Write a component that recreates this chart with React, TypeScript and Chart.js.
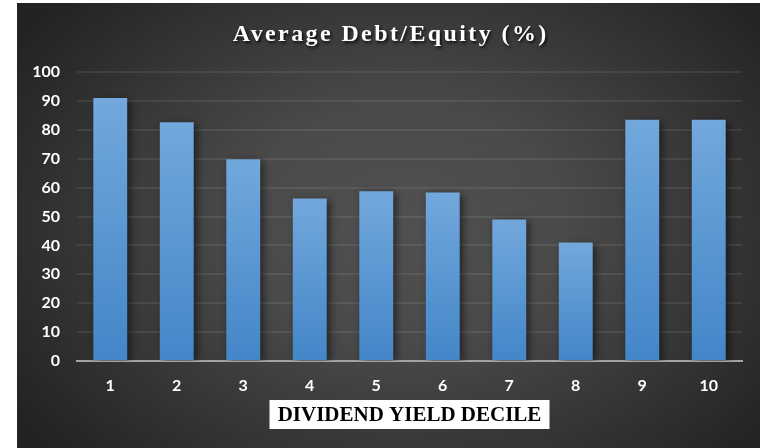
import React, { useEffect, useRef } from "react";
import { Chart, registerables } from "chart.js";

Chart.register(...registerables);

const categories: string[] = ["1", "2", "3", "4", "5", "6", "7", "8", "9", "10"];
const debtEquity: number[] = [91, 82.6, 69.8, 56.2, 58.7, 58.3, 49, 41, 83.5, 83.5];
const chartTitle = "Average Debt/Equity (%)";
const xAxisTitle = "DIVIDEND YIELD DECILE";
const yMin = 0;
const yMax = 100;
const yStep = 10;

const W = 743;
const H = 445;

const backgroundPlugin = {
  id: "bgPlugin",
  beforeDraw(chart: any) {
    const ctx = chart.ctx as CanvasRenderingContext2D;
    ctx.save();
    const cx = W * 0.52;
    const cy = H * 0.5;
    const rx = W * 0.62;
    const ry = H * 0.75;
    ctx.fillStyle = "#232323";
    ctx.fillRect(0, 0, W, H);
    ctx.translate(cx, cy);
    ctx.scale(1, ry / rx);
    const g = ctx.createRadialGradient(0, 0, 0, 0, 0, rx);
    g.addColorStop(0, "#505050");
    g.addColorStop(0.35, "#4a4a4a");
    g.addColorStop(1, "#232323");
    ctx.fillStyle = g;
    ctx.fillRect(-rx, -rx * 2, rx * 2, rx * 4);
    ctx.restore();
  },
};

const shadowPlugin = {
  id: "barShadow",
  beforeDatasetsDraw(chart: any) {
    const ctx = chart.ctx as CanvasRenderingContext2D;
    ctx.save();
    ctx.shadowColor = "rgba(0,0,0,0.55)";
    ctx.shadowBlur = 8;
    ctx.shadowOffsetX = 3;
    ctx.shadowOffsetY = 2;
  },
  afterDatasetsDraw(chart: any) {
    chart.ctx.restore();
  },
};

const textPlugin = {
  id: "texts",
  afterDraw(chart: any) {
    const ctx = chart.ctx as CanvasRenderingContext2D;
    const area = chart.chartArea;
    // Title
    ctx.save();
    ctx.font = "bold 24px 'Liberation Serif', serif";
    (ctx as any).letterSpacing = "0px";
    const natural = ctx.measureText(chartTitle).width;
    const spacing = Math.max(0, (316 - natural) / chartTitle.length);
    (ctx as any).letterSpacing = spacing.toFixed(2) + "px";
    ctx.textAlign = "center";
    ctx.textBaseline = "alphabetic";
    ctx.shadowColor = "rgba(0,0,0,0.8)";
    ctx.shadowBlur = 3;
    ctx.shadowOffsetX = 1.5;
    ctx.shadowOffsetY = 2;
    ctx.fillStyle = "#ffffff";
    ctx.fillText(chartTitle, W / 2 + spacing / 2 + 1, 38);
    ctx.restore();

    // X axis title in white box
    ctx.save();
    ctx.font = "bold 21px 'Liberation Serif', serif";
    const cx = (area.left + area.right) / 2;
    ctx.fillStyle = "#ffffff";
    ctx.fillRect(cx - 140, 397, 280, 29);
    ctx.fillStyle = "#000000";
    ctx.textAlign = "center";
    ctx.textBaseline = "alphabetic";
    ctx.fillText(xAxisTitle, cx, 418, 268);
    ctx.restore();
  },
};

export default function App() {
  const canvasRef = useRef<HTMLCanvasElement | null>(null);

  useEffect(() => {
    const canvas = canvasRef.current;
    if (!canvas) return;
    const chart = new Chart(canvas, {
      type: "bar",
      data: {
        labels: categories,
        datasets: [
          {
            data: debtEquity,
            categoryPercentage: 1,
            barPercentage: 0.51,
            borderWidth: 0,
            backgroundColor: (c: any) => {
              const ch = c.chart;
              if (!ch.chartArea || c.raw === undefined) return "#5b9bd5";
              const ys = ch.scales.y;
              const top = ys.getPixelForValue(c.raw);
              const bottom = ys.getPixelForValue(0);
              const g = ch.ctx.createLinearGradient(0, top, 0, bottom);
              g.addColorStop(0, "#72a8dc");
              g.addColorStop(1, "#4386c8");
              return g;
            },
          },
        ],
      },
      options: {
        responsive: false,
        animation: false,
        devicePixelRatio: 1,
        layout: { padding: { top: 69, right: 18, left: 0, bottom: 0 } },
        plugins: {
          legend: { display: false },
          title: { display: false },
          tooltip: { enabled: false },
        },
        scales: {
          x: {
            z: 1,
            grid: { display: false, drawTicks: false },
            border: { display: true, color: "#a3a3a3", width: 2 },
            ticks: {
              color: "#ffffff",
              font: { family: "Lato, sans-serif", size: 16, weight: "bold" },
              padding: 15,
            },
            afterFit(scale: any) {
              scale.height = 87;
            },
          },
          y: {
            min: yMin,
            max: yMax,
            grid: {
              drawTicks: false,
              color: (c: any) => (c.tick && c.tick.value === 0 ? "rgba(0,0,0,0)" : "rgba(255,255,255,0.08)"),
              lineWidth: 2,
            },
            border: { display: false },
            ticks: {
              stepSize: yStep,
              color: "#ffffff",
              font: { family: "Lato, sans-serif", size: 16, weight: "bold" },
              padding: 17,
            },
            afterFit(scale: any) {
              scale.width = 60;
            },
          },
        },
      } as any,
      plugins: [backgroundPlugin, shadowPlugin, textPlugin],
    });
    return () => chart.destroy();
  }, []);

  return (
    <div style={{ position: "fixed", left: 0, top: 0, width: 760, height: 448, background: "#ffffff" }}>
      <canvas
        ref={canvasRef}
        width={W}
        height={H}
        style={{ position: "absolute", left: 17, top: 3, width: W, height: H }}
      />
    </div>
  );
}
